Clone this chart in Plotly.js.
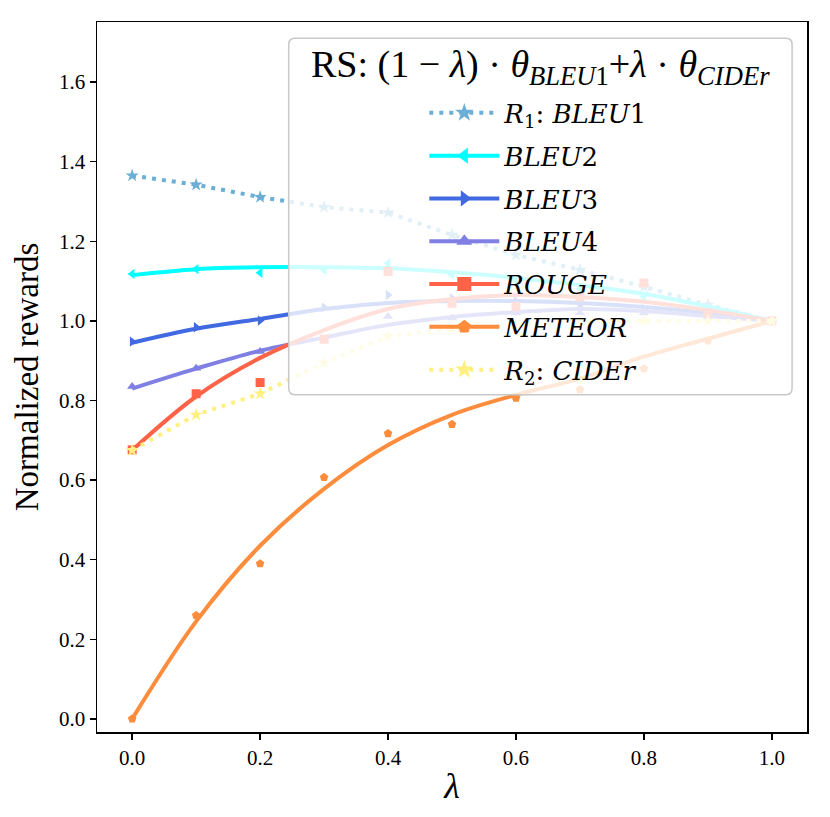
<!DOCTYPE html>
<html>
<head>
<meta charset="utf-8">
<script src="https://cdn.plot.ly/plotly-3.0.1.min.js"></script>
<style>
  html, body { margin: 0; padding: 0; background: #fff; }
  #chart { width: 830px; height: 817px; }
</style>
</head>
<body>
<div id="chart"></div>
<script>
/* ===== data ===== */

const lambdas = [0.0, 0.1, 0.2, 0.3, 0.4, 0.5, 0.6, 0.7, 0.8, 0.9, 1.0];

// measured points
const bleu1  = [1.365, 1.342, 1.311, 1.286, 1.272, 1.216, 1.166, 1.128, 1.086, 1.040, 1.000];
const bleu2  = [1.118, 1.130, 1.121, 1.128, 1.145, 1.116, 1.100, 1.080, 1.060, 1.030, 1.000];
const bleu3  = [0.948, 0.984, 1.001, 1.034, 1.065, 1.057, 1.050, 1.040, 1.030, 1.010, 1.000];
const bleu4  = [0.835, 0.881, 0.923, 0.955, 1.011, 1.007, 1.020, 1.020, 1.020, 1.010, 1.000];
const rouge  = [0.676, 0.817, 0.845, 0.954, 1.124, 1.044, 1.036, 1.060, 1.095, 1.020, 1.000];
const meteor = [0.000, 0.260, 0.390, 0.607, 0.717, 0.740, 0.806, 0.827, 0.880, 0.950, 1.000];
const cider  = [0.675, 0.764, 0.817, 0.895, 0.961, 0.980, 0.990, 1.000, 1.000, 1.000, 1.000];

// fitted curves, read at the same lambdas
const bleu2Fit  = [1.115, 1.130, 1.135, 1.135, 1.132, 1.122, 1.108, 1.090, 1.068, 1.036, 1.000];
const bleu3Fit  = [0.945, 0.980, 1.005, 1.030, 1.045, 1.050, 1.050, 1.045, 1.035, 1.020, 1.000];
const bleu4Fit  = [0.830, 0.880, 0.925, 0.958, 0.990, 1.010, 1.022, 1.030, 1.025, 1.012, 1.000];
const rougeFit  = [0.675, 0.810, 0.907, 0.977, 1.030, 1.055, 1.065, 1.060, 1.048, 1.027, 1.000];
const meteorFit = [0.000, 0.245, 0.435, 0.578, 0.688, 0.764, 0.814, 0.855, 0.910, 0.955, 1.000];

const yTicks = [0.0, 0.2, 0.4, 0.6, 0.8, 1.0, 1.2, 1.4, 1.6];
const xTicks = [0.0, 0.2, 0.4, 0.6, 0.8, 1.0];

/* ===== traces ===== */

const serif = "Liberation Serif, DejaVu Serif, serif";
const mathSerif = "DejaVu Serif, Liberation Serif, serif";
const dotted = "4px,6px";

let series = [
    { name: "<i>R</i><sub>1</sub>: <i>BLEU</i>1", y: bleu1, fit: null,
      color: "#6baed6", symbol: "star", dash: dotted },
    { name: "<i>BLEU</i>2", y: bleu2, fit: bleu2Fit,
      color: "#00ffff", symbol: "triangle-left", dash: "solid" },
    { name: "<i>BLEU</i>3", y: bleu3, fit: bleu3Fit,
      color: "#4169e1", symbol: "triangle-right", dash: "solid" },
    { name: "<i>BLEU</i>4", y: bleu4, fit: bleu4Fit,
      color: "#7f7fe4", symbol: "triangle-up", dash: "solid" },
    { name: "<i>ROUGE</i>", y: rouge, fit: rougeFit,
      color: "#ff6347", symbol: "square", dash: "solid" },
    { name: "<i>METEOR</i>", y: meteor, fit: meteorFit,
      color: "#fd8d3c", symbol: "pentagon", dash: "solid" },
    { name: "<i>R</i><sub>2</sub>: <i>CIDEr</i>", y: cider, fit: null,
      color: "#fff07f", symbol: "star", dash: dotted }
];

let traces = [];

series.forEach((s, i) => {

    if (s.fit) {
        // smooth fitted curve
        traces.push({
            x: lambdas, y: s.fit,
            mode: "lines",
            line: { color: s.color, width: 4, shape: "spline", smoothing: 1 },
            showlegend: false, hoverinfo: "skip"
        });
        // raw points
        traces.push({
            x: lambdas, y: s.y,
            mode: "markers",
            marker: { color: s.color, symbol: s.symbol, size: 9 },
            showlegend: false
        });
    } else {
        // dotted line through the points
        traces.push({
            x: lambdas, y: s.y,
            mode: "lines+markers",
            line: { color: s.color, width: 4, dash: s.dash },
            marker: { color: s.color, symbol: s.symbol, size: 10 },
            showlegend: false
        });
    }

    // legend entry only
    traces.push({
        x: [null], y: [null],
        mode: "lines+markers",
        name: s.name,
        legendgroup: "g" + i,
        line: { color: s.color, width: 4, dash: s.dash },
        marker: { color: s.color, symbol: s.symbol, size: 14 }
    });
});

/* ===== layout ===== */

let r = 0.009;
let bx0 = 0.270, bx1 = 0.979, by0 = 0.475, by1 = 0.977;
let boxPath =
    "M" + (bx0 + r) + "," + by1 +
    " L" + (bx1 - r) + "," + by1 +
    " Q" + bx1 + "," + by1 + " " + bx1 + "," + (by1 - r) +
    " L" + bx1 + "," + (by0 + r) +
    " Q" + bx1 + "," + by0 + " " + (bx1 - r) + "," + by0 +
    " L" + (bx0 + r) + "," + by0 +
    " Q" + bx0 + "," + by0 + " " + bx0 + "," + (by0 + r) +
    " L" + bx0 + "," + (by1 - r) +
    " Q" + bx0 + "," + by1 + " " + (bx0 + r) + "," + by1 + " Z";

let layout = {
    width: 830,
    height: 817,
    paper_bgcolor: "#ffffff",
    plot_bgcolor: "#ffffff",
    font: { family: serif, color: "#000000", size: 21 },
    margin: { l: 97, r: 23, t: 22, b: 85 },

    xaxis: {
        range: [-0.055, 1.055],
        tickvals: xTicks,
        tickformat: ".1f",
        ticks: "outside", ticklen: 6, tickwidth: 1.5, tickcolor: "#000",
        showline: true, linecolor: "#000", linewidth: 1.5, mirror: true,
        showgrid: false, zeroline: false,
        tickfont: { family: serif, size: 21 },
        title: { text: "<i>λ</i>", font: { family: serif, size: 36 }, standoff: 4 }
    },

    yaxis: {
        range: [-0.033, 1.751],
        tickvals: yTicks,
        tickformat: ".1f",
        ticks: "outside", ticklen: 6, tickwidth: 1.5, tickcolor: "#000",
        showline: true, linecolor: "#000", linewidth: 1.5, mirror: true,
        showgrid: false, zeroline: false,
        tickfont: { family: serif, size: 21 },
        title: { text: "Normalized rewards", font: { family: serif, size: 33 }, standoff: 10 }
    },

    shapes: [{
        type: "path",
        xref: "paper", yref: "paper",
        path: boxPath,
        fillcolor: "rgba(255,255,255,0.8)",
        line: { color: "rgba(200,200,200,1)", width: 1.5 },
        layer: "above"
    }],

    annotations: [{
        xref: "paper", yref: "paper",
        x: 0.624, y: 0.937,
        xanchor: "center", yanchor: "middle",
        showarrow: false,
        text: "RS: (1 − <i>λ</i>) · <i>θ</i><sub><i>BLEU</i>1</sub>+<i>λ</i> · <i>θ</i><sub><i>CIDEr</i></sub>",
        font: { family: serif, size: 38, color: "#000" }
    }],

    legend: {
        x: 0.461, y: 0.905,
        xanchor: "left", yanchor: "top",
        bgcolor: "rgba(0,0,0,0)",
        borderwidth: 0,
        font: { family: mathSerif, size: 26, color: "#000" },
        itemwidth: 70,
        traceorder: "grouped",
        tracegroupgap: 6
    },

    showlegend: true
};

Plotly.newPlot("chart", traces, layout, { displayModeBar: false, staticPlot: true });
</script>
</body>
</html>
